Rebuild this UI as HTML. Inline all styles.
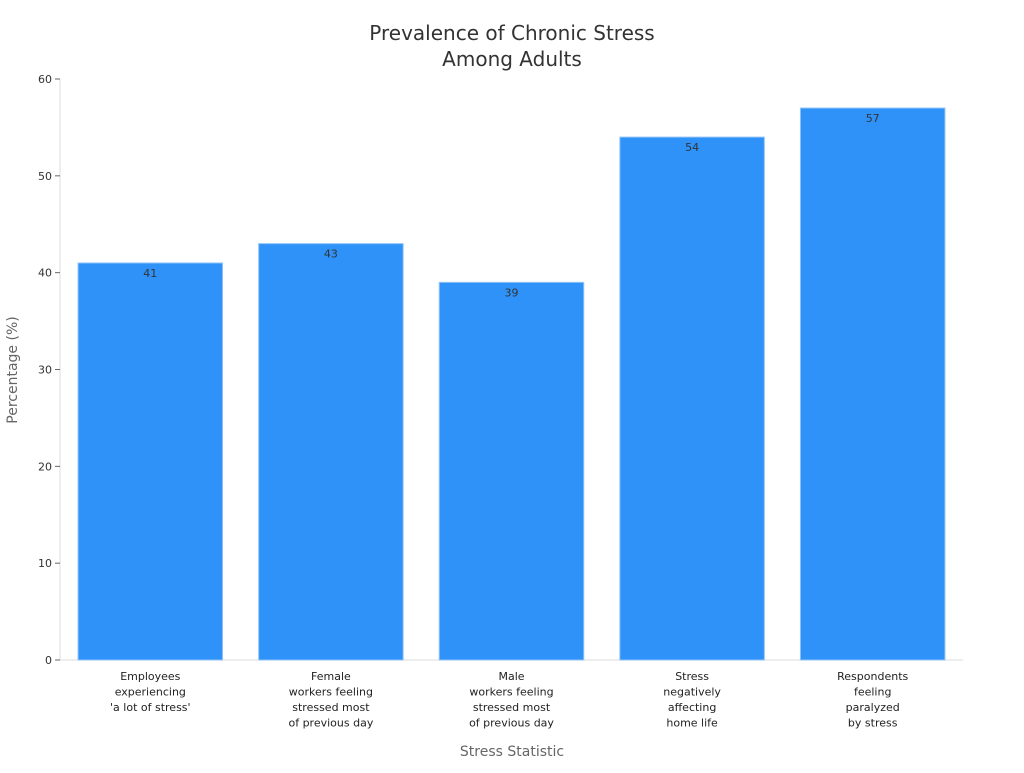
<!DOCTYPE html>
<html><head><meta charset="utf-8"><style>
body{margin:0;background:#fff;}
svg{font-family:"DejaVu Sans","Liberation Sans",sans-serif;}
</style></head><body>
<svg id="chart" width="1024" height="768" viewBox="0 0 1024 768" xmlns="http://www.w3.org/2000/svg">
<text x="512" y="40" text-anchor="middle" font-size="20" fill="#333">Prevalence of Chronic Stress</text>
<text x="512" y="66" text-anchor="middle" font-size="20" fill="#333">Among Adults</text>
<text transform="translate(17,370) rotate(-90)" text-anchor="middle" font-size="14" fill="#666">Percentage (%)</text>
<text x="512" y="756" text-anchor="middle" font-size="14" fill="#666">Stress Statistic</text>
<g id="plot"></g>
</svg>
<script>
const categories=[["Employees","experiencing","'a lot of stress'"],["Female","workers feeling","stressed most","of previous day"],["Male","workers feeling","stressed most","of previous day"],["Stress","negatively","affecting","home life"],["Respondents","feeling","paralyzed","by stress"]];
const values=[41,43,39,54,57];
const yTicks=[0,10,20,30,40,50,60];
const NS="http://www.w3.org/2000/svg";
const g=document.getElementById('plot');
const L=60,R=963,T=79,B=660,yMax=60;
const y=v=>B-(v/yMax)*(B-T);
const band=(R-L)/categories.length;
const x=i=>L+band*i+band*0.1;
const bw=band*0.8;
function mk(t,a){const e=document.createElementNS(NS,t);for(const k in a)e.setAttribute(k,a[k]);g.appendChild(e);return e;}
let ax=mk('line',{x1:L,y1:T,x2:L,y2:B,stroke:'#ddd'});


let bx=mk('line',{x1:L,y1:B,x2:R,y2:B,stroke:'#ddd'});


yTicks.forEach(t=>{
 const tk=mk('line',{x1:L-5,y1:y(t),x2:L,y2:y(t),stroke:'#666'});
 
 
 const tl=mk('text',{x:L-8,y:y(t)+4,'text-anchor':'end','font-size':11,fill:'#333'});
 tl.textContent=t;
 
 
});
values.forEach((v,i)=>{
 const r=mk('rect',{x:x(i),y:y(v),width:bw,height:B-y(v),fill:'#2e92f8',stroke:'#8fc3f7','stroke-width':1});
 
 
 const vl=mk('text',{x:x(i)+bw/2,y:y(v)+14,'text-anchor':'middle','font-size':11,fill:'#333'});
 vl.textContent=v;
 
 
 categories[i].forEach((ln,j)=>{
  const c=mk('text',{x:x(i)+bw/2,y:B+20+j*15.5,'text-anchor':'middle','font-size':11,fill:'#222'});
  c.textContent=ln;
  
  
 });
});
</script>
</body></html>
